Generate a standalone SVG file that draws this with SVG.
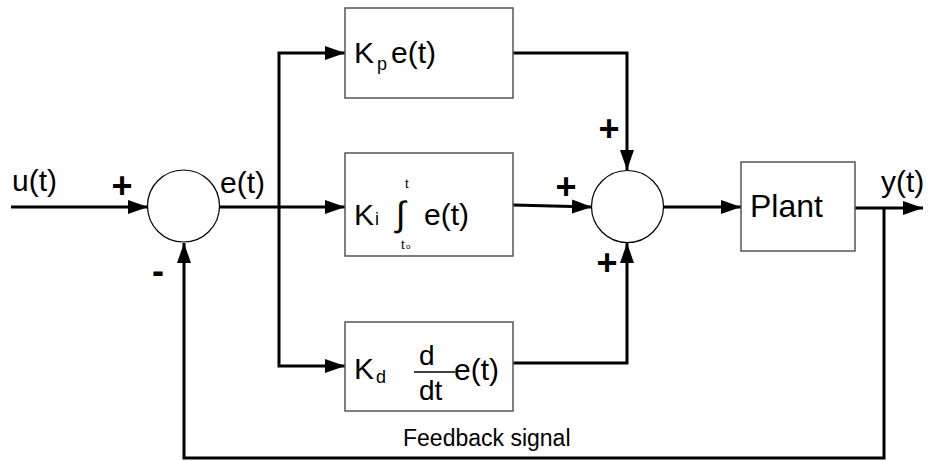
<svg xmlns="http://www.w3.org/2000/svg" width="932" height="461" viewBox="0 0 932 461">
<style>
.box{fill:#fff;stroke:#555;stroke-width:1.5}
.sum{fill:#fff;stroke:#000;stroke-width:1.2}
.wire{fill:none;stroke:#000;stroke-width:3}
text{font-family:"Liberation Sans",Arial,sans-serif;fill:#000}
.big{font-size:30px}
.sub{font-size:18px}
.sm{font-size:13px}
.sign{font-size:36px;font-weight:bold}
</style>
<defs>
<marker id="ah" markerWidth="20" markerHeight="14" refX="20" refY="7" orient="auto" markerUnits="userSpaceOnUse">
<path d="M0,0 L20,7 L0,14 Z" fill="#000"/>
</marker>
</defs>
<g id="connectors">
<path class="wire" d="M11,207 L148,207" marker-end="url(#ah)"/>
<path class="wire" d="M219,207 L345,207" marker-end="url(#ah)"/>
<path class="wire" d="M279,207 L279,53 L345,53" marker-end="url(#ah)"/>
<path class="wire" d="M279,207 L279,366 L345,366" marker-end="url(#ah)"/>
<path class="wire" d="M513,53 L627,53 L627,170" marker-end="url(#ah)"/>
<path class="wire" d="M513,205 L592,207" marker-end="url(#ah)"/>
<path class="wire" d="M513,363 L627,363 L627,243" marker-end="url(#ah)"/>
<path class="wire" d="M663,207 L741,207" marker-end="url(#ah)"/>
<path class="wire" d="M855,208 L923,208" marker-end="url(#ah)"/>
<path class="wire" d="M884,208 L884,458 L184,458 L184,243" marker-end="url(#ah)"/>
</g>
<g id="sum1">
<circle class="sum" cx="183.5" cy="206" r="36"/>
</g>
<g id="sum2">
<circle class="sum" cx="627.5" cy="206.5" r="36"/>
</g>
<g id="kp">
<rect class="box" x="345" y="8" width="168" height="90"/>
<text class="big" x="354" y="63">K</text>
<text class="sub" x="377" y="70">p</text>
<text class="big" x="391" y="63">e(t)</text>
</g>
<g id="ki">
<rect class="box" x="345" y="153" width="168" height="103"/>
<text class="big" x="354" y="225">K</text>
<text class="sub" x="375" y="225" font-size="20">i</text>
<text x="396" y="226" font-size="35">∫</text>
<text class="sm" x="405" y="188">t</text>
<text class="sm" x="401" y="249">t</text>
<text x="406" y="249" font-size="8">o</text>
<text class="big" x="424" y="225">e(t)</text>
</g>
<g id="kd">
<rect class="box" x="345" y="322" width="168" height="89"/>
<text class="big" x="354" y="379">K</text>
<text class="sub" x="376" y="383">d</text>
<text x="419" y="365" font-size="28">d</text>
<line x1="414" y1="372" x2="455" y2="372" stroke="#000" stroke-width="1.5"/>
<text x="419" y="400" font-size="28">dt</text>
<text class="big" x="454" y="380">e(t)</text>
</g>
<g id="plant">
<rect class="box" x="741" y="162" width="114" height="89"/>
<text x="750" y="217" font-size="32">Plant</text>
</g>
<g id="labels">
<text class="big" x="12" y="191">u(t)</text>
<text class="big" x="220" y="193">e(t)</text>
<text class="big" x="881" y="192">y(t)</text>
<text class="sign" x="122" y="198" text-anchor="middle">+</text>
<text class="sign" x="158" y="283" text-anchor="middle">-</text>
<text class="sign" x="609" y="141" text-anchor="middle">+</text>
<text class="sign" x="566" y="199" text-anchor="middle">+</text>
<text class="sign" x="607" y="275" text-anchor="middle">+</text>
<text x="403" y="446" font-size="23">Feedback signal</text>
</g>
</svg>
